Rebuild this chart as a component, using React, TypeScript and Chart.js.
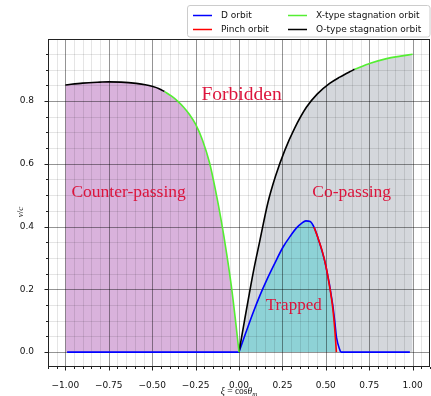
import React, { useEffect, useRef } from 'react';
import { Chart, registerables } from 'chart.js';

Chart.register(...registerables);

// ---------- axis ranges / ticks ----------
const X_MIN = -1.1;
const X_MAX = 1.1;
const Y_MIN = -0.0475;
const Y_MAX = 0.9975;
const X_MAJOR_STEP = 0.25;
const X_MINOR_STEP = 0.05;
const Y_MAJOR_STEP = 0.2;
const Y_MINOR_STEP = 0.05;

// ---------- curves ----------
// O-type stagnation orbit, counter-passing side
const oLeftX = [-1.0, -0.9, -0.8, -0.749, -0.68, -0.592, -0.54, -0.496, -0.46, -0.429];
const oLeftY = [0.851, 0.857, 0.86, 0.861, 0.86, 0.856, 0.852, 0.846, 0.839, 0.83];
// X-type stagnation orbit, counter-passing side
const xLeftX = [-0.429, -0.39, -0.352, -0.32, -0.285, -0.25, -0.21, -0.17, -0.135, -0.102, -0.07, -0.044, -0.02, 0.0];
const xLeftY = [0.83, 0.816, 0.799, 0.781, 0.757, 0.726, 0.675, 0.604, 0.515, 0.418, 0.31, 0.21, 0.1, 0.0];
// O-type stagnation orbit, co-passing side
const oRightX = [0.0, 0.03, 0.06, 0.09, 0.119, 0.166, 0.21, 0.263, 0.32, 0.388, 0.45, 0.522, 0.58, 0.637, 0.666];
const oRightY = [0.0, 0.095, 0.188, 0.276, 0.352, 0.475, 0.56, 0.642, 0.713, 0.78, 0.822, 0.856, 0.876, 0.893, 0.901];
// X-type stagnation orbit, co-passing side
const xRightX = [0.666, 0.756, 0.85, 0.93, 1.0];
const xRightY = [0.901, 0.92, 0.935, 0.943, 0.949];
// D orbit (trapped / passing boundary)
const dOrbitX = [-0.99, 0.0, 0.04, 0.08, 0.12, 0.16, 0.2, 0.253, 0.3, 0.33, 0.36, 0.385, 0.41, 0.432, 0.46, 0.5, 0.54, 0.552, 0.562, 0.585, 0.984];
const dOrbitY = [0.0, 0.0, 0.063, 0.124, 0.18, 0.23, 0.276, 0.334, 0.373, 0.395, 0.41, 0.418, 0.416, 0.398, 0.355, 0.275, 0.15, 0.095, 0.045, 0.0, 0.0];
// Pinch orbit
const pinchX = [0.432, 0.46, 0.48, 0.5, 0.52, 0.54, 0.552, 0.561];
const pinchY = [0.398, 0.355, 0.32, 0.275, 0.215, 0.14, 0.07, 0.0];

// ---------- region labels ----------
const regionNames = ['Forbidden', 'Counter-passing', 'Co-passing', 'Trapped'];
const regionX = [0.015, -0.636, 0.649, 0.315];
const regionY = [0.819, 0.51, 0.51, 0.147];
const regionSize = [19.5, 17.5, 17.5, 17];

// ---------- legend ----------
const legendNames = ['D orbit', 'Pinch orbit', 'X-type stagnation orbit', 'O-type stagnation orbit'];

const BLUE = '#0000ff';
const RED = '#ff0000';
const GREEN = '#55ee33';
const BLACK = '#000000';
const legendColors = [BLUE, RED, GREEN, BLACK];

const zip = (xs: number[], ys: number[]) => xs.map((x, i) => ({ x, y: ys[i] }));

const fmt = (v: number, d: number) => {
  const s = Math.abs(v).toFixed(d);
  return v < -1e-9 ? '\u2212' + s : s;
};

const isMultiple = (v: number, step: number) => Math.abs(v / step - Math.round(v / step)) < 1e-6;

function drawGrid(chart: any) {
  const { ctx, chartArea: a, scales } = chart;
  const xs = scales.x;
  const ys = scales.y;
  ctx.save();
  ctx.beginPath();
  ctx.rect(a.left, a.top, a.right - a.left, a.bottom - a.top);
  ctx.clip();
  ctx.lineWidth = 1;
  for (const pass of [0, 1]) {
    for (let k = Math.ceil(X_MIN / X_MINOR_STEP - 1e-9); k * X_MINOR_STEP <= X_MAX + 1e-9; k++) {
      const v = k * X_MINOR_STEP;
      const major = isMultiple(v, X_MAJOR_STEP);
      if ((pass === 1) !== major) continue;
      const px = Math.round(xs.getPixelForValue(v)) + 0.5;
      ctx.strokeStyle = major ? 'rgba(0,0,0,0.42)' : 'rgba(0,0,0,0.1)';
      ctx.beginPath();
      ctx.moveTo(px, a.top);
      ctx.lineTo(px, a.bottom);
      ctx.stroke();
    }
    for (let k = Math.ceil(Y_MIN / Y_MINOR_STEP - 1e-9); k * Y_MINOR_STEP <= Y_MAX + 1e-9; k++) {
      const v = k * Y_MINOR_STEP;
      const major = isMultiple(v, Y_MAJOR_STEP);
      if ((pass === 1) !== major) continue;
      const py = Math.round(ys.getPixelForValue(v)) + 0.5;
      ctx.strokeStyle = major ? 'rgba(0,0,0,0.42)' : 'rgba(0,0,0,0.1)';
      ctx.beginPath();
      ctx.moveTo(a.left, py);
      ctx.lineTo(a.right, py);
      ctx.stroke();
    }
  }
  ctx.restore();
}

function drawFrameAndTicks(chart: any) {
  const { ctx, chartArea: a, scales } = chart;
  const xs = scales.x;
  const ys = scales.y;
  ctx.save();
  ctx.strokeStyle = '#222';
  ctx.lineWidth = 1;
  for (let k = Math.ceil(X_MIN / X_MINOR_STEP - 1e-9); k * X_MINOR_STEP <= X_MAX + 1e-9; k++) {
    const v = k * X_MINOR_STEP;
    const len = isMultiple(v, X_MAJOR_STEP) ? 3.5 : 2;
    const px = Math.round(xs.getPixelForValue(v)) + 0.5;
    ctx.beginPath();
    ctx.moveTo(px, a.bottom);
    ctx.lineTo(px, a.bottom + len);
    ctx.stroke();
  }
  for (let k = Math.ceil(Y_MIN / Y_MINOR_STEP - 1e-9); k * Y_MINOR_STEP <= Y_MAX + 1e-9; k++) {
    const v = k * Y_MINOR_STEP;
    const len = isMultiple(v, Y_MAJOR_STEP) ? 3.5 : 2;
    const py = Math.round(ys.getPixelForValue(v)) + 0.5;
    ctx.beginPath();
    ctx.moveTo(a.left, py);
    ctx.lineTo(a.left - len, py);
    ctx.stroke();
  }
  ctx.strokeRect(a.left + 0.5, a.top + 0.5, a.right - a.left - 1, a.bottom - a.top - 1);
  ctx.restore();
}

function drawTexts(chart: any) {
  const { ctx, scales } = chart;
  ctx.save();
  ctx.fillStyle = '#dc143c';
  ctx.textAlign = 'center';
  ctx.textBaseline = 'middle';
  regionNames.forEach((name, i) => {
    ctx.font = `${regionSize[i]}px "Liberation Serif"`;
    ctx.fillText(name, scales.x.getPixelForValue(regionX[i]), scales.y.getPixelForValue(regionY[i]));
  });
  ctx.restore();
}

function drawAxisLabels(chart: any) {
  const { ctx, chartArea: a } = chart;
  ctx.save();
  ctx.fillStyle = '#111';
  ctx.textBaseline = 'alphabetic';
  // x label: ξ = cosθ_m
  const parts: [string, string, number][] = [
    ['\u03be', 'italic 9.5px "Liberation Serif"', 0],
    [' = ', '9.5px "Liberation Serif"', 0],
    ['cos', '9.5px "Liberation Serif"', 0],
    ['\u03b8', 'italic 9.5px "Liberation Serif"', 0],
    ['m', 'italic 7px "Liberation Serif"', 2],
  ];
  let total = 0;
  parts.forEach(([t, f]) => {
    ctx.font = f;
    total += ctx.measureText(t).width;
  });
  let cx = (a.left + a.right) / 2 - total / 2;
  const baseY = 394;
  parts.forEach(([t, f, dy]) => {
    ctx.font = f;
    ctx.textAlign = 'left';
    ctx.fillText(t, cx, baseY + dy);
    cx += ctx.measureText(t).width;
  });
  // y label: v/c
  ctx.translate(23, 212);
  ctx.rotate(-Math.PI / 2);
  const yparts: [string, string][] = [
    ['v', 'italic 9px "Liberation Serif"'],
    ['/', '9px "Liberation Serif"'],
    ['c', 'italic 9px "Liberation Serif"'],
  ];
  let tw = 0;
  yparts.forEach(([t, f]) => {
    ctx.font = f;
    tw += ctx.measureText(t).width;
  });
  let yx = -tw / 2;
  yparts.forEach(([t, f]) => {
    ctx.font = f;
    ctx.textAlign = 'left';
    ctx.fillText(t, yx, 0);
    yx += ctx.measureText(t).width;
  });
  ctx.restore();
}

function drawLegend(chart: any) {
  const { ctx } = chart;
  ctx.save();
  const bx = 187.5, by = 5.5, bw = 242.5, bh = 31.5;
  ctx.fillStyle = 'rgba(255,255,255,0.85)';
  ctx.strokeStyle = '#cccccc';
  ctx.lineWidth = 1;
  ctx.beginPath();
  (ctx as any).roundRect(bx, by, bw, bh, 2.5);
  ctx.fill();
  ctx.stroke();
  const colLineX = [193, 288];
  const colTextX = [221, 316];
  const rowY = [15.5, 29.5];
  ctx.font = '9px "DejaVu Sans"';
  ctx.textBaseline = 'middle';
  ctx.textAlign = 'left';
  legendNames.forEach((name, i) => {
    const col = Math.floor(i / 2);
    const row = i % 2;
    ctx.strokeStyle = legendColors[i];
    ctx.lineWidth = 1.5;
    ctx.beginPath();
    ctx.moveTo(colLineX[col], rowY[row]);
    ctx.lineTo(colLineX[col] + 19, rowY[row]);
    ctx.stroke();
    ctx.fillStyle = '#111';
    ctx.fillText(name, colTextX[col], rowY[row] + 0.5);
  });
  ctx.restore();
}

const customPlugin = {
  id: 'customDecor',
  beforeDatasetsDraw(chart: any) {
    chart.$gridDrawn = false;
  },
  beforeDatasetDraw(chart: any, args: any) {
    const ds = chart.data.datasets[args.index];
    if (!chart.$gridDrawn && !ds.isFill) {
      drawGrid(chart);
      chart.$gridDrawn = true;
    }
  },
  afterDatasetsDraw(chart: any) {
    if (!chart.$gridDrawn) drawGrid(chart);
    drawTexts(chart);
  },
  afterDraw(chart: any) {
    drawFrameAndTicks(chart);
    drawAxisLabels(chart);
    drawLegend(chart);
  },
};

export default function App() {
  const canvasRef = useRef<HTMLCanvasElement | null>(null);

  useEffect(() => {
    const canvas = canvasRef.current;
    if (!canvas) return;

    const dPts = zip(dOrbitX, dOrbitY);
    const riseStart = dOrbitX.indexOf(0);
    const dropEnd = dOrbitX.length - 2;
    const dLeft = dPts.slice(0, riseStart + 1);
    const dCurve = dPts.slice(riseStart, dropEnd + 1);
    const dRight = dPts.slice(dropEnd);

    const trapFill = [
      ...dCurve.filter((p) => p.x < pinchX[0]),
      ...zip(pinchX, pinchY),
    ];

    const smooth = { tension: 0.4, cubicInterpolationMode: 'monotone' };

    const fillBase = {
      type: 'line',
      isFill: true,
      borderColor: 'transparent',
      borderWidth: 1,
      pointRadius: 0,
      fill: 'origin',
      ...smooth,
    };
    const lineBase = {
      type: 'line',
      fill: false,
      borderWidth: 1.6,
      pointRadius: 0,
      backgroundColor: 'transparent',
      ...smooth,
    };

    const chart = new Chart(canvas, {
      type: 'line',
      data: {
        datasets: [
          { ...fillBase, label: 'copassing', data: [...zip(oRightX, oRightY), ...zip(xRightX, xRightY).slice(1)], backgroundColor: 'rgba(112,122,140,0.3)', order: 10 },
          { ...fillBase, label: 'counterpassing', data: [...zip(oLeftX, oLeftY), ...zip(xLeftX, xLeftY).slice(1)], backgroundColor: 'rgba(140,20,150,0.33)', order: 9 },
          { ...fillBase, label: 'trapped', data: trapFill, backgroundColor: 'rgba(0,200,200,0.33)', order: 8 },
          { ...lineBase, label: 'D orbit', data: dLeft, borderColor: BLUE, order: 4 },
          { ...lineBase, label: 'D orbit b', data: dCurve, borderColor: BLUE, order: 4 },
          { ...lineBase, label: 'D orbit c', data: dRight, borderColor: BLUE, order: 4 },
          { ...lineBase, label: 'O-type stagnation orbit', data: zip(oLeftX, oLeftY), borderColor: BLACK, order: 3 },
          { ...lineBase, label: 'O-type stagnation orbit R', data: zip(oRightX, oRightY), borderColor: BLACK, order: 3 },
          { ...lineBase, label: 'X-type stagnation orbit', data: zip(xLeftX, xLeftY), borderColor: GREEN, order: 2 },
          { ...lineBase, label: 'X-type stagnation orbit R', data: zip(xRightX, xRightY), borderColor: GREEN, order: 2 },
          { ...lineBase, label: 'Pinch orbit', data: zip(pinchX, pinchY), borderColor: RED, order: 1 },
        ] as any,
      },
      options: {
        animation: false,
        responsive: false,
        maintainAspectRatio: false,
        layout: { padding: { top: 39, right: 1, left: 0, bottom: 0 } },
        plugins: {
          legend: { display: false },
          tooltip: { enabled: false },
        },
        scales: {
          x: {
            type: 'linear',
            min: X_MIN,
            max: X_MAX,
            grid: { display: false },
            border: { display: false },
            ticks: {
              stepSize: X_MAJOR_STEP,
              includeBounds: false,
              autoSkip: false,
              maxRotation: 0,
              padding: 5,
              color: '#111',
              font: { family: 'DejaVu Sans', size: 9 },
              callback: (v: any) => fmt(Number(v), 2),
            },
            afterFit: (s: any) => {
              s.height = 29;
            },
          },
          y: {
            type: 'linear',
            min: Y_MIN,
            max: Y_MAX,
            grid: { display: false },
            border: { display: false },
            ticks: {
              stepSize: Y_MAJOR_STEP,
              includeBounds: false,
              autoSkip: false,
              padding: 6,
              color: '#111',
              font: { family: 'DejaVu Sans', size: 9 },
              callback: (v: any) => fmt(Number(v), 1),
            },
            afterFit: (s: any) => {
              s.width = 48;
            },
          },
        },
      } as any,
      plugins: [customPlugin],
    });

    return () => chart.destroy();
  }, []);

  return (
    <div style={{ position: 'absolute', left: 0, top: 0, width: 431, height: 396, background: '#fff' }}>
      <canvas ref={canvasRef} width={431} height={396} style={{ width: 431, height: 396, display: 'block' }} />
    </div>
  );
}
